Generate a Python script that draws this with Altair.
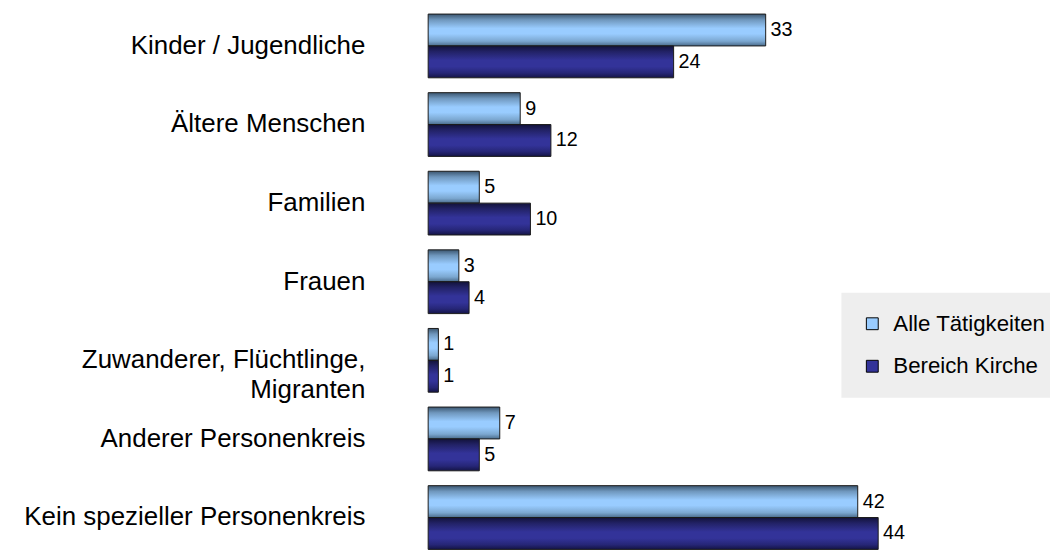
import altair as alt
import pandas as pd

categories = [
    "Kinder / Jugendliche",
    "Ältere Menschen",
    "Familien",
    "Frauen",
    "Zuwanderer, Flüchtlinge,|Migranten",
    "Anderer Personenkreis",
    "Kein spezieller Personenkreis",
]
series = ["Alle Tätigkeiten", "Bereich Kirche"]
alle = [33, 9, 5, 3, 1, 7, 42]
kirche = [24, 12, 10, 4, 1, 5, 44]
legend_colors = ["#99ccff", "#333399"]

rows = []
for c, a, k in zip(categories, alle, kirche):
    rows.append({"cat": c, "series": series[0], "value": a})
    rows.append({"cat": c, "series": series[1], "value": k})
df = pd.DataFrame(rows)

light_grad = alt.Gradient(
    gradient="linear", x1=0, y1=0, x2=0, y2=1,
    stops=[
        alt.GradientStop(offset=0, color="#3b5670"),
        alt.GradientStop(offset=0.18, color="#6f97bd"),
        alt.GradientStop(offset=0.45, color="#99ccff"),
        alt.GradientStop(offset=0.62, color="#99ccff"),
        alt.GradientStop(offset=0.85, color="#7ba7d0"),
        alt.GradientStop(offset=1, color="#4a6b8a"),
    ],
)
dark_grad = alt.Gradient(
    gradient="linear", x1=0, y1=0, x2=0, y2=1,
    stops=[
        alt.GradientStop(offset=0, color="#12123a"),
        alt.GradientStop(offset=0.18, color="#222266"),
        alt.GradientStop(offset=0.45, color="#333399"),
        alt.GradientStop(offset=0.65, color="#333399"),
        alt.GradientStop(offset=0.85, color="#262677"),
        alt.GradientStop(offset=1, color="#141446"),
    ],
)

y_enc = alt.Y(
    "cat:N",
    sort=categories,
    scale=alt.Scale(range=[3, 544.5], paddingInner=0.189, paddingOuter=0),
    axis=alt.Axis(
        title=None, domain=False, ticks=False, labelPadding=64,
        labelFont="Liberation Sans", labelFontSize=26.2, labelColor="#000000",
        labelLimit=420, labelLineHeight=30,
        labelExpr="split(datum.label, '|')",
    ),
)
yoff = alt.YOffset("series:N", scale=alt.Scale(domain=series, paddingInner=0, paddingOuter=0))
x_enc = alt.X("value:Q", scale=alt.Scale(domain=[0, 60.8], nice=False), axis=None)

base = alt.Chart(df)

bars_light = base.transform_filter(alt.datum.series == series[0]).mark_bar(
    fill=light_grad, stroke="#1a1a1a", strokeWidth=1
).encode(x=x_enc, y=y_enc, yOffset=yoff)

bars_dark = base.transform_filter(alt.datum.series == series[1]).mark_bar(
    fill=dark_grad, stroke="#1a1a1a", strokeWidth=1
).encode(x=x_enc, y=y_enc, yOffset=yoff)

labels = base.mark_text(
    align="left", baseline="middle", dx=5, fontSize=20, font="Liberation Sans", color="#000000"
).encode(x=x_enc, y=y_enc, yOffset=yoff, text="value:Q")

legend_layer = base.transform_filter("false").mark_square(
    size=144, stroke="#000000", strokeWidth=1, opacity=1
).encode(
    color=alt.Color(
        "series:N",
        scale=alt.Scale(domain=series, range=legend_colors),
        legend=alt.Legend(
            title=None, orient="none", legendX=418, legendY=285,
            fillColor="#eeeeee", padding=20, rowPadding=20,
            labelFont="Liberation Sans", labelFontSize=22.5, labelColor="#000000",
            labelOffset=10, symbolType="square", symbolSize=144,
            symbolStrokeColor="#000000", symbolStrokeWidth=1, labelLimit=300,
        ),
    )
)

chart = alt.layer(bars_light, bars_dark, labels, legend_layer).properties(
    width=629, height=544,
    background="white",
    autosize=alt.AutoSizeParams(type="none"),
    padding={"left": 425, "top": 0, "right": 0, "bottom": 0},
).configure_view(stroke=None)

chart.save("out.html", embed_options={"renderer": "svg", "actions": False})
